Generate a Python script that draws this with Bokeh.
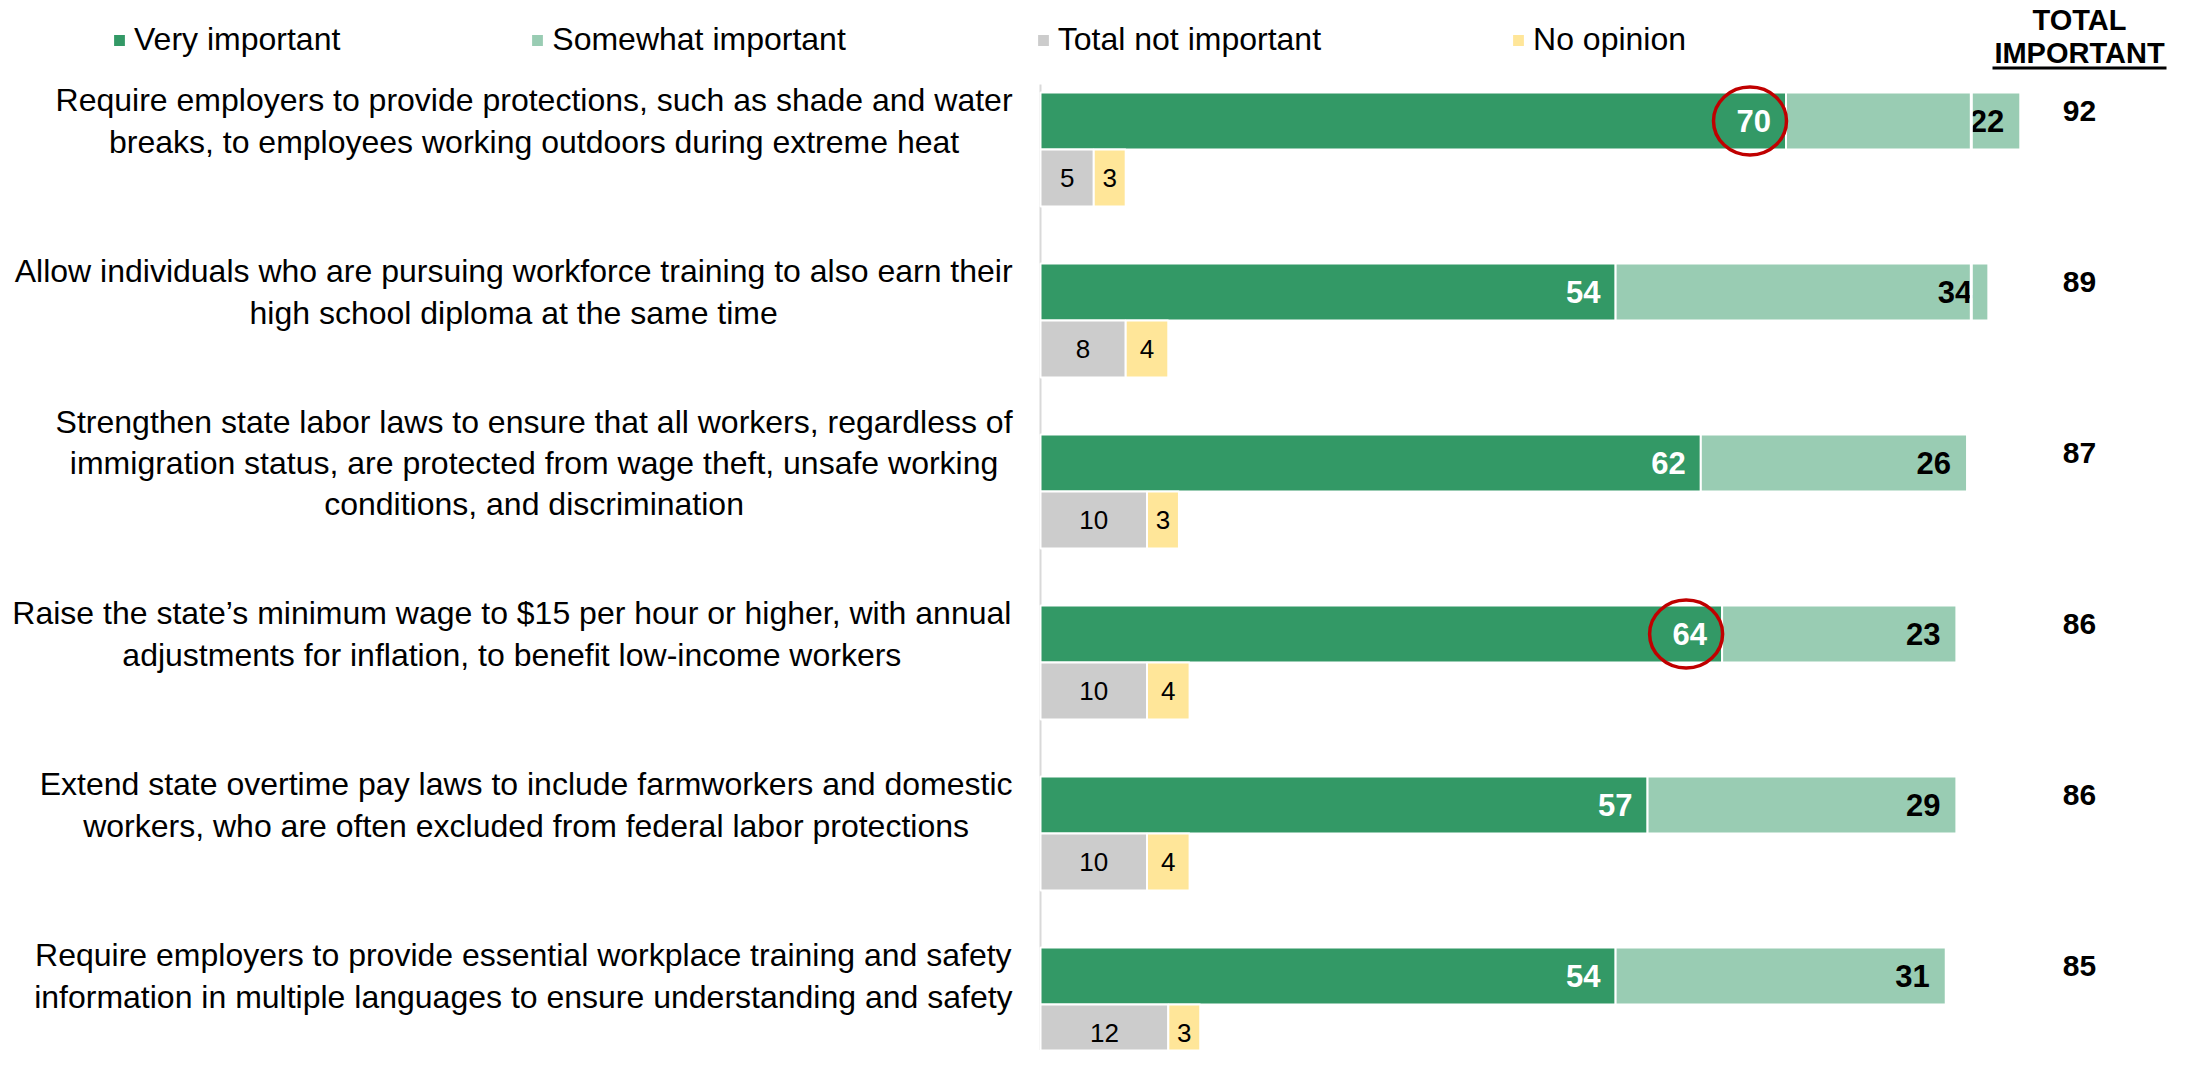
from bokeh.plotting import figure
from bokeh.models import Range1d, ColumnDataSource, Legend, LegendItem, Span
from bokeh.core.properties import value
from bokeh.embed import file_html
from bokeh.resources import INLINE

# ---------------- data ----------------
statements = [
    "Require employers to provide protections, such as shade and water\nbreaks, to employees working outdoors during extreme heat",
    "Allow individuals who are pursuing workforce training to also earn their\nhigh school diploma at the same time",
    "Strengthen state labor laws to ensure that all workers, regardless of\nimmigration status, are protected from wage theft, unsafe working\nconditions, and discrimination",
    "Raise the state\u2019s minimum wage to $15 per hour or higher, with annual\nadjustments for inflation, to benefit low-income workers",
    "Extend state overtime pay laws to include farmworkers and domestic\nworkers, who are often excluded from federal labor protections",
    "Require employers to provide essential workplace training and safety\ninformation in multiple languages to ensure understanding and safety",
]
very_important = [70, 54, 62, 64, 57, 54]
somewhat_important = [22, 34, 26, 23, 29, 31]
total_not_important = [5, 8, 10, 10, 10, 12]
no_opinion = [3, 4, 3, 4, 4, 3]
total_important = [92, 89, 87, 86, 86, 85]
highlighted = [True, False, False, True, False, False]
series_names = ["Very important", "Somewhat important", "Total not important", "No opinion"]

# ---------------- styling / layout ----------------
C_VERY = "#339966"
C_SOME = "#99CCB3"
C_NOT = "#CCCCCC"
C_NOOP = "#FFE699"
FONT_NAME = "Liberation Sans"
FONT = value(FONT_NAME)

W, H = 2174, 1050
PX = 10.65     # pixels per percentage point
X0 = 1040      # pixel position of 0 %
ROW = 171.0    # pixels per row
Y0 = 120.5     # pixel centre of first row's main bar
BAR_H = 57 / ROW
SUB_OFF = 57 / ROW
LABEL_FS = 32
LABEL_RIGHT = 1012  # right edge of the statement text blocks (px)


def fx(px):
    return (px - X0) / PX


def fy(py):
    return (py - Y0) / ROW


# Arial / Liberation Sans advance widths (1/1000 em) for block centring
_W = {" ": 278, ",": 278, "-": 333, ".": 278, "$": 556, "'": 191, "\u2019": 222}
_W.update({d: 556 for d in "0123456789"})
_W.update(dict(zip("ABCDEFGHIJKLMNOPQRSTUVWXYZ",
                   [667, 667, 722, 722, 667, 611, 778, 722, 278, 500, 667, 556, 833,
                    722, 778, 667, 778, 722, 667, 611, 722, 667, 944, 667, 667, 611])))
_W.update(dict(zip("abcdefghijklmnopqrstuvwxyz",
                   [556, 556, 500, 556, 556, 278, 556, 556, 222, 222, 500, 222, 833,
                    556, 556, 556, 556, 333, 500, 278, 556, 500, 722, 500, 500, 500])))


def text_width(s, fs):
    return sum(_W.get(c, 556) for c in s) * fs / 1000.0


def block_center(s):
    w = max(text_width(line, LABEL_FS) for line in s.split("\n"))
    return LABEL_RIGHT - w / 2.0


p = figure(width=W, height=H, output_backend="svg", toolbar_location=None,
           x_range=Range1d(fx(0), fx(W)), y_range=Range1d(fy(H), fy(0)),
           x_axis_location=None, y_axis_location=None, min_border=0,
           outline_line_color=None, background_fill_color="white",
           border_fill_color="white")
p.grid.visible = False

n = len(statements)
rows = list(range(n))
sub_rows = [r + SUB_OFF for r in rows]

src = ColumnDataSource(dict(
    y=rows, ys=sub_rows, very=very_important, some=somewhat_important,
    total=total_important, notimp=total_not_important, noop=no_opinion,
    noop_end=[a + b for a, b in zip(total_not_important, no_opinion)],
    noop_mid=[a + b / 2 for a, b in zip(total_not_important, no_opinion)],
    not_mid=[a / 2 for a in total_not_important],
    zero=[0] * n,
    stmt=statements,
    very_lbl=[str(v) for v in very_important],
    some_lbl=[str(v) for v in somewhat_important],
    not_lbl=[str(v) for v in total_not_important],
    noop_lbl=[str(v) for v in no_opinion],
    tot_lbl=[str(v) for v in total_important],
    tot_x=[fx(2079)] * n,
    lbl_x=[fx(block_center(s)) for s in statements],
))

# vertical baseline
p.segment(x0=0, y0=fy(84), x1=0, y1=fy(H + 20), line_color="#D9D9D9", line_width=2)

r_very = p.hbar(y="y", left="zero", right="very", height=BAR_H, source=src,
                fill_color=C_VERY, line_color="white", line_width=2)
r_some = p.hbar(y="y", left="very", right="total", height=BAR_H, source=src,
                fill_color=C_SOME, line_color="white", line_width=2)
r_not = p.hbar(y="ys", left="zero", right="notimp", height=BAR_H, source=src,
               fill_color=C_NOT, line_color="white", line_width=2)
r_noop = p.hbar(y="ys", left="notimp", right="noop_end", height=BAR_H, source=src,
                fill_color=C_NOOP, line_color="white", line_width=2)

# thin white divider seen in the original
p.add_layout(Span(location=87.4, dimension="height", line_color="white", line_width=3))

# value labels
p.text(x="very", y="y", text="very_lbl", source=src, x_offset=-15,
       text_align="right", text_baseline="middle", text_color="white",
       text_font=FONT, text_font_style="bold", text_font_size="31px")
p.text(x="total", y="y", text="some_lbl", source=src, x_offset=-16,
       text_align="right", text_baseline="middle", text_color="black",
       text_font=FONT, text_font_style="bold", text_font_size="31px")
p.text(x="not_mid", y="ys", text="not_lbl", source=src,
       text_align="center", text_baseline="middle", text_color="black",
       text_font=FONT, text_font_size="26px")
p.text(x="noop_mid", y="ys", text="noop_lbl", source=src,
       text_align="center", text_baseline="middle", text_color="black",
       text_font=FONT, text_font_size="26px")

# totals
p.text(x="tot_x", y="y", text="tot_lbl", source=src, y_offset=-10,
       text_align="center", text_baseline="middle", text_color="black",
       text_font=FONT, text_font_style="bold", text_font_size="30px")

# statements
p.text(x="lbl_x", y="y", text="stmt", source=src,
       text_align="center", text_baseline="middle", text_color="black",
       text_font=FONT, text_font_size=f"{LABEL_FS}px", text_line_height=1.15)

# highlight ellipses
hx = [v - 36 / PX for v, h in zip(very_important, highlighted) if h]
hy = [r for r, h in zip(rows, highlighted) if h]
p.ellipse(x=hx, y=hy, width=73, height=68, width_units="screen", height_units="screen",
          fill_alpha=0, line_color="#C00000", line_width=3.5)

# header
p.text(x=[fx(2079), fx(2079)], y=[fy(19), fy(52)], text=["TOTAL", "IMPORTANT"],
       text_align="center", text_baseline="middle", text_color="black",
       text_font=FONT, text_font_style="bold", text_font_size="29px")
p.quad(left=fx(1992), right=fx(2166), top=fy(66), bottom=fy(69),
       fill_color="black", line_color=None)

# legend
legend = Legend(items=[LegendItem(label=series_names[0], renderers=[r_very]),
                       LegendItem(label=series_names[1], renderers=[r_some]),
                       LegendItem(label=series_names[2], renderers=[r_not]),
                       LegendItem(label=series_names[3], renderers=[r_noop])],
                orientation="horizontal", location=(111, 992),
                glyph_width=16, glyph_height=16, label_standoff=7, spacing=189,
                padding=0, margin=0, border_line_alpha=0, background_fill_alpha=0,
                label_text_font=FONT_NAME, label_text_font_size="32px",
                label_text_color="black")
p.add_layout(legend)

open("out.html", "w").write(file_html(p, INLINE))
